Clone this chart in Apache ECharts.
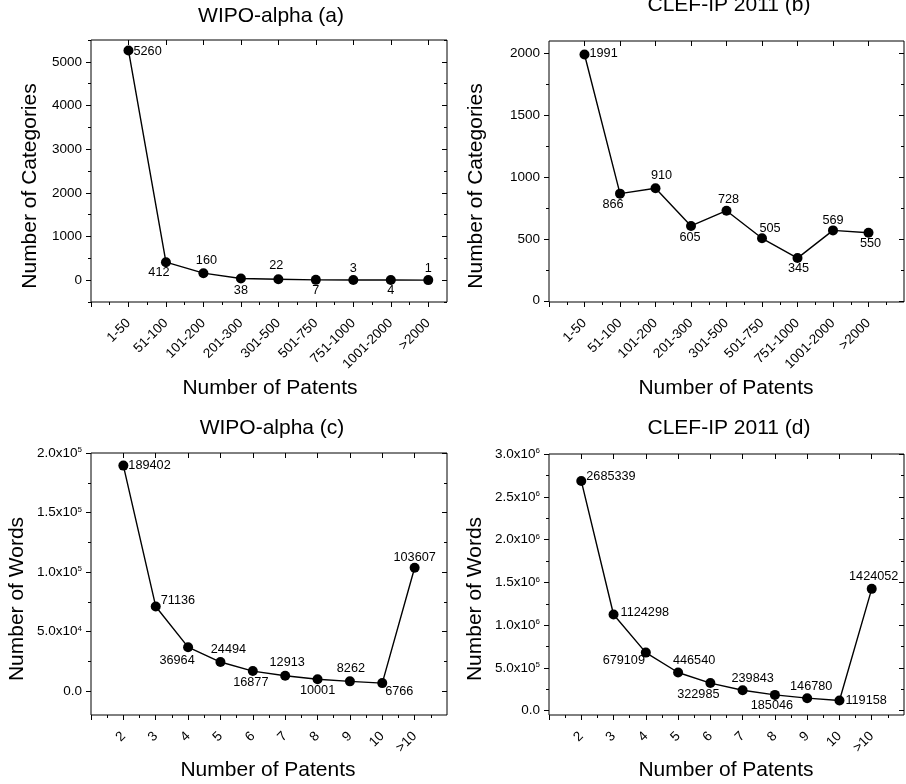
<!DOCTYPE html>
<html>
<head>
<meta charset="utf-8">
<script src="https://cdn.jsdelivr.net/npm/echarts@6/dist/echarts.min.js"></script>
<style>
html,body{margin:0;padding:0;background:#fff;}
#chart{width:906px;height:784px;}
</style>
</head>
<body>
<div id="chart"></div>
<script>
// ---- data ----
const catsAB = ['1-50','51-100','101-200','201-300','301-500','501-750','751-1000','1001-2000','>2000'];
const valsA = [5260, 412, 160, 38, 22, 7, 3, 4, 1];
const valsB = [1991, 866, 910, 605, 728, 505, 345, 569, 550];
const catsCD = ['2','3','4','5','6','7','8','9','10','>10'];
const valsC = [189402, 71136, 36964, 24494, 16877, 12913, 10001, 8262, 6766, 103607];
const valsD = [2685339, 1124298, 679109, 446540, 322985, 239843, 185046, 146780, 119158, 1424052];

const ticksA = [0, 1000, 2000, 3000, 4000, 5000];
const ticksB = [0, 500, 1000, 1500, 2000];
const ticksC = [0, 50000, 100000, 150000, 200000];
const tickLabelsC = ['0.0', '5.0x10^4', '1.0x10^5', '1.5x10^5', '2.0x10^5'];
const ticksD = [0, 500000, 1000000, 1500000, 2000000, 2500000, 3000000];
const tickLabelsD = ['0.0', '5.0x10^5', '1.0x10^6', '1.5x10^6', '2.0x10^6', '2.5x10^6', '3.0x10^6'];

const titles = ['WIPO-alpha (a)', 'CLEF-IP 2011 (b)', 'WIPO-alpha (c)', 'CLEF-IP 2011 (d)'];
const yNames = ['Number of Categories', 'Number of Categories', 'Number of Words', 'Number of Words'];
const xName = 'Number of Patents';

// ---- label placement (style only) ----
const lblA = [['right',0,1],['bottom',-7,-1],['top',3,-1],['bottom',0,0],['top',-2,-2],['bottom',0,-1],['top',0,0],['bottom',0,-1],['top',0,0]];
const lblB = [['right',0,-1],['bottom',-7,-1],['top',6,-1],['bottom',-1,0],['top',2,0],['top',8,2],['bottom',1,-1],['top',0,2],['bottom',2,-1]];
const lblC = [['right',0,0],['right',0,-6],['bottom',-11,2],['top',8,-1],['bottom',-2,0],['top',2,-2],['bottom',0,0],['top',1,-1],['bottom',17,-3],['top',0,1]];
const lblD = [['right',0,-4],['right',2,-2],['bottom',-22,-4],['top',16,-1],['bottom',-12,0],['top',10,0],['bottom',-3,-1],['top',4,0],['right',1,0],['top',2,-1]];

const FONT = "'Liberation Sans', Arial, sans-serif";

const panels = [
  {grid:{left:91, top:40, width:356, height:262}, cats:catsAB, vals:valsA, lbl:lblA, xmax:9.5, ymin:-500, ymax:5500, ticks:ticksA, tlabels:null,
   title:[271,16], yname:[30,186], xname:[270,388]},
  {grid:{left:549, top:41, width:355, height:261}, cats:catsAB, vals:valsB, lbl:lblB, xmax:10, ymin:-10, ymax:2100, ticks:ticksB, tlabels:null,
   title:[729,5], yname:[476,186], xname:[726,388]},
  {grid:{left:91, top:453, width:356, height:262}, cats:catsCD, vals:valsC, lbl:lblC, xmax:11, ymin:-20000, ymax:200000, ticks:ticksC, tlabels:tickLabelsC,
   title:[272,428], yname:[17,599], xname:[268,770]},
  {grid:{left:549, top:454, width:355, height:261}, cats:catsCD, vals:valsD, lbl:lblD, xmax:11, ymin:-50000, ymax:3000000, ticks:ticksD, tlabels:tickLabelsD,
   title:[729,428], yname:[475,599], xname:[726,770]}
];

const grids = [], xAxes = [], yAxes = [], series = [], graphics = [];
const noLine = {show:false, onZero:false};
const txt = {color:'#000', fontFamily:FONT};

panels.forEach((p, gi) => {
  grids.push(Object.assign({show:true, borderColor:'#000', borderWidth:1, backgroundColor:'transparent'}, p.grid));
  const n = p.cats.length;
  const major = [], minor = [], labelPos = [];
  for (let i = 0; i <= n; i++) major.push(i);
  for (let i = 1; i <= n; i++) labelPos.push(i);
  for (let i = 0; i + 0.5 < p.xmax; i++) minor.push(i + 0.5);
  const xBase = xAxes.length, yBase = yAxes.length;
  const xCommon = {type:'value', gridIndex:gi, min:0, max:p.xmax, splitLine:{show:false}, axisLine:noLine};
  // bottom main
  xAxes.push(Object.assign({}, xCommon, {position:'bottom',
    axisTick:{show:true, inside:false, length:5, customValues:major, lineStyle:{color:'#000'}},
    axisLabel:{show:true, rotate:45, margin:19, fontSize:13.5, customValues:labelPos, ...txt,
      formatter:(v)=>{const k=Math.round(v)-1; return p.cats[k]||'';}}}));
  // bottom minor
  xAxes.push(Object.assign({}, xCommon, {position:'bottom',
    axisTick:{show:true, inside:false, length:3, customValues:minor, lineStyle:{color:'#000'}},
    axisLabel:{show:false}}));
  // top
  xAxes.push(Object.assign({}, xCommon, {position:'top',
    axisTick:{show:true, inside:true, length:5, customValues:labelPos, lineStyle:{color:'#000'}},
    axisLabel:{show:false}}));

  const step = p.ticks[1] - p.ticks[0];
  const yMinor = [];
  for (let v = p.ticks[0] - step/2; v <= p.ymax; v += step) if (v >= p.ymin) yMinor.push(v);
  const yCommon = {type:'value', gridIndex:gi, min:p.ymin, max:p.ymax, splitLine:{show:false}, axisLine:noLine};
  const fmt = p.tlabels
    ? (v)=>{const k=p.ticks.indexOf(v); if(k<0) return ''; const s=p.tlabels[k]; const q=s.split('^'); return q.length>1 ? q[0]+'{sup|'+q[1]+'}' : s;}
    : (v)=>String(v);
  yAxes.push(Object.assign({}, yCommon, {position:'left',
    axisTick:{show:true, inside:false, length:5, customValues:p.ticks, lineStyle:{color:'#000'}},
    axisLabel:{show:true, margin:9, fontSize:13.5, customValues:p.ticks, ...txt, formatter:fmt,
      rich:{sup:{fontSize:8, verticalAlign:'top', color:'#000', fontFamily:FONT}}}}));
  yAxes.push(Object.assign({}, yCommon, {position:'left',
    axisTick:{show:true, inside:false, length:3, customValues:yMinor, lineStyle:{color:'#000'}},
    axisLabel:{show:false}}));
  yAxes.push(Object.assign({}, yCommon, {position:'right',
    axisTick:{show:true, inside:true, length:5, customValues:p.ticks, lineStyle:{color:'#000'}},
    axisLabel:{show:false}}));
  yAxes.push(Object.assign({}, yCommon, {position:'right',
    axisTick:{show:true, inside:true, length:3, customValues:yMinor, lineStyle:{color:'#000'}},
    axisLabel:{show:false}}));

  series.push({
    type:'line', xAxisIndex:xBase, yAxisIndex:yBase,
    symbol:'circle', symbolSize:10, showSymbol:true,
    lineStyle:{color:'#000', width:1.4}, itemStyle:{color:'#000'},
    label:{show:true, distance:0, fontSize:12.7, ...txt, formatter:(q)=>String(q.value[1])},
    emphasis:{disabled:true},
    data:p.vals.map((v,i)=>({value:[i+1, v], label:{position:p.lbl[i][0], offset:[p.lbl[i][1], p.lbl[i][2]]}}))
  });

  graphics.push({type:'text', x:p.title[0], y:p.title[1],
    style:{text:titles[gi], font:'21px '+FONT, fill:'#000', align:'center', verticalAlign:'middle', textAlign:'center', textVerticalAlign:'middle'}});
  graphics.push({type:'text', x:p.xname[0], y:p.xname[1],
    style:{text:xName, font:'21px '+FONT, fill:'#000', align:'center', verticalAlign:'middle', textAlign:'center', textVerticalAlign:'middle'}});
  graphics.push({type:'text', x:p.yname[0], y:p.yname[1], rotation:Math.PI/2,
    style:{text:yNames[gi], font:'21px '+FONT, fill:'#000', align:'center', verticalAlign:'middle', textAlign:'center', textVerticalAlign:'middle'}});
});

const chart = echarts.init(document.getElementById('chart'), null, {renderer:'canvas'});
chart.setOption({
  animation:false,
  backgroundColor:'#fff',
  grid:grids, xAxis:xAxes, yAxis:yAxes, series:series,
  graphic:{elements:graphics}
});
</script>
</body>
</html>
